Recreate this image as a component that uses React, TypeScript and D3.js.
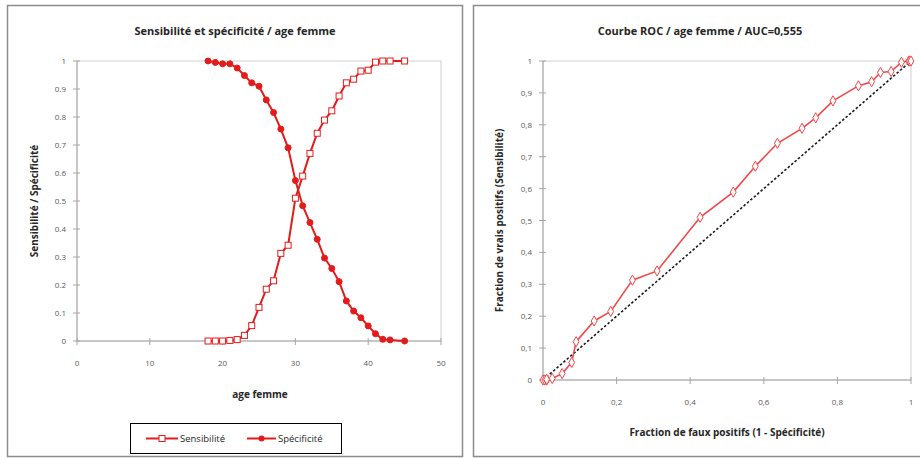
import React from "react";
import * as d3 from "d3";

const ages = [18, 19, 20, 21, 22, 23, 24, 25, 26, 27, 28, 29, 30, 31, 32, 33, 34, 35, 36, 37, 38, 39, 40, 41, 42, 43, 45];
const sensibilite = [0, 0, 0, 0.002, 0.005, 0.02, 0.055, 0.12, 0.185, 0.215, 0.313, 0.342, 0.51, 0.589, 0.67, 0.742, 0.789, 0.822, 0.875, 0.922, 0.935, 0.964, 0.967, 0.996, 1, 1, 1];
const specificite = [1, 0.995, 0.99, 0.99, 0.975, 0.948, 0.922, 0.91, 0.861, 0.816, 0.757, 0.69, 0.573, 0.483, 0.423, 0.363, 0.296, 0.259, 0.212, 0.143, 0.107, 0.083, 0.054, 0.026, 0.006, 0.004, 0];

const leftXTicks = [0, 10, 20, 30, 40, 50];
const leftYTicks = [0, 0.1, 0.2, 0.3, 0.4, 0.5, 0.6, 0.7, 0.8, 0.9, 1];
const rocXTicks = [0, 0.2, 0.4, 0.6, 0.8, 1];
const rocYTicks = [0, 0.1, 0.2, 0.3, 0.4, 0.5, 0.6, 0.7, 0.8, 0.9, 1];
const diagonal = [0, 1];

const RED = "#e41b1b";
const FONT = "'Open Sans', 'Noto Sans', sans-serif";
const AXIS = "#a6a6a6";
const TICKTXT = "#595959";

const fmtDot = (v: number) => (v === 0 || v === 1 ? String(v) : String(+v.toFixed(1)));
const fmtComma = (v: number) => fmtDot(v).replace(".", ",");

export default function App() {
  // left chart scales
  const lx = d3.scaleLinear().domain([0, 50]).range([77, 441]);
  const ly = d3.scaleLinear().domain([0, 1]).range([341, 61]);
  // ROC scales
  const rx = d3.scaleLinear().domain([0, 1]).range([543, 911]);
  const ry = d3.scaleLinear().domain([0, 1]).range([380, 61]);

  const sensPts = ages.map((a, i) => [a, sensibilite[i]] as [number, number]);
  const specPts = ages.map((a, i) => [a, specificite[i]] as [number, number]);
  const rocPts = ages
    .map((a, i) => [1 - specificite[i], sensibilite[i]] as [number, number])
    .sort((p, q) => p[0] - q[0] || p[1] - q[1]);

  const lline = d3.line<[number, number]>().x((d) => lx(d[0])).y((d) => ly(d[1]));
  const rline = d3.line<[number, number]>().x((d) => rx(d[0])).y((d) => ry(d[1]));
  const diag = d3.line<number>().x((d) => rx(d)).y((d) => ry(d));

  const diamond = d3.symbol().type(d3.symbolDiamond).size(30)() as string;

  return (
    <svg width={920} height={459} style={{ position: "absolute", left: 0, top: 0, background: "#fff" }} fontFamily={FONT}>
      {/* panel frames */}
      <rect x={7.5} y={5.5} width={455} height={451} fill="#fff" stroke="#8c8c8c" strokeWidth={1.5} />
      <rect x={473.5} y={5.5} width={460} height={451} fill="#fff" stroke="#8c8c8c" strokeWidth={1.5} />

      {/* ============ LEFT CHART ============ */}
      <text x={235} y={35} textAnchor="middle" fontSize={11} fontWeight="bold" fill="#262626">
        Sensibilité et spécificité / age femme
      </text>
      {/* plot area border */}
      <rect x={lx(0)} y={ly(1)} width={lx(50) - lx(0)} height={ly(0) - ly(1)} fill="none" stroke="#d0d0d0" strokeWidth={1} />
      <line x1={lx(0)} x2={lx(0)} y1={ly(0)} y2={ly(1)} stroke={AXIS} />
      <line x1={lx(0)} x2={lx(50)} y1={ly(0)} y2={ly(0)} stroke={AXIS} />
      {leftYTicks.map((t) => (
        <g key={"ly" + t}>
          <line x1={lx(0) - 4} x2={lx(0) + 3} y1={ly(t)} y2={ly(t)} stroke={AXIS} />
          <text x={lx(0) - 11} y={ly(t) + 3} textAnchor="end" fontSize={8} fill={TICKTXT}>
            {fmtDot(t)}
          </text>
        </g>
      ))}
      {leftXTicks.map((t) => (
        <g key={"lx" + t}>
          <line x1={lx(t)} x2={lx(t)} y1={ly(0) - 3} y2={ly(0) + 4} stroke={AXIS} />
          <text x={lx(t)} y={ly(0) + 25} textAnchor="middle" fontSize={8} fill={TICKTXT}>
            {t}
          </text>
        </g>
      ))}
      <text x={260} y={398} textAnchor="middle" fontSize={10} fontWeight="bold" fill="#262626">
        age femme
      </text>
      <text
        transform={`translate(38, ${(ly(0) + ly(1)) / 2}) rotate(-90)`}
        textAnchor="middle"
        fontSize={10}
        fontWeight="bold"
        fill="#262626"
      >
        Sensibilité / Spécificité
      </text>

      <path d={lline(specPts) as string} fill="none" stroke={RED} strokeWidth={2} />
      <path d={lline(sensPts) as string} fill="none" stroke={RED} strokeWidth={2} />
      {specPts.map((p, i) => (
        <circle key={"sp" + i} cx={lx(p[0])} cy={ly(p[1])} r={3} fill={RED} stroke={RED} strokeWidth={1} />
      ))}
      {sensPts.map((p, i) => (
        <rect key={"se" + i} x={lx(p[0]) - 3} y={ly(p[1]) - 3} width={6} height={6} fill="#fff" stroke={RED} strokeWidth={1} />
      ))}

      {/* legend */}
      <rect x={130.5} y={423.5} width={211} height={30} fill="#fff" stroke="#000" strokeWidth={1} />
      <line x1={146} x2={178} y1={438.5} y2={438.5} stroke={RED} strokeWidth={2} />
      <rect x={159} y={435.5} width={6} height={6} fill="#fff" stroke={RED} />
      <text x={180} y={442} fontSize={9.5} fill="#262626">Sensibilité</text>
      <line x1={247} x2={276} y1={438.5} y2={438.5} stroke={RED} strokeWidth={2} />
      <circle cx={261.5} cy={438.5} r={3} fill={RED} />
      <text x={278} y={442} fontSize={9.5} fill="#262626">Spécificité</text>

      {/* ============ ROC CHART ============ */}
      <text x={700} y={35} textAnchor="middle" fontSize={11} fontWeight="bold" fill="#262626">
        Courbe ROC / age femme / AUC=0,555
      </text>
      <rect x={rx(0)} y={ry(1)} width={rx(1) - rx(0)} height={ry(0) - ry(1)} fill="none" stroke="#d0d0d0" strokeWidth={1} />
      <line x1={rx(0)} x2={rx(0)} y1={ry(0)} y2={ry(1)} stroke={AXIS} />
      <line x1={rx(0)} x2={rx(1)} y1={ry(0)} y2={ry(0)} stroke={AXIS} />
      {rocYTicks.map((t) => (
        <g key={"ry" + t}>
          <line x1={rx(0) - 4} x2={rx(0) + 3} y1={ry(t)} y2={ry(t)} stroke={AXIS} />
          <text x={rx(0) - 11} y={ry(t) + 3} textAnchor="end" fontSize={8} fill={TICKTXT}>
            {fmtComma(t)}
          </text>
        </g>
      ))}
      {rocXTicks.map((t) => (
        <g key={"rx" + t}>
          <line x1={rx(t)} x2={rx(t)} y1={ry(0) - 3} y2={ry(0) + 4} stroke={AXIS} />
          <text x={rx(t)} y={ry(0) + 25} textAnchor="middle" fontSize={8} fill={TICKTXT}>
            {fmtComma(t)}
          </text>
        </g>
      ))}
      <text x={727} y={436} textAnchor="middle" fontSize={10} fontWeight="bold" fill="#262626">
        Fraction de faux positifs (1 - Spécificité)
      </text>
      <text
        transform={`translate(503, ${(ry(0) + ry(1)) / 2}) rotate(-90)`}
        textAnchor="middle"
        fontSize={10}
        fontWeight="bold"
        fill="#262626"
      >
        Fraction de vrais positifs (Sensibilité)
      </text>

      <path d={diag(diagonal) as string} fill="none" stroke="#1a1a1a" strokeWidth={1.6} strokeDasharray="2.5,2" />
      <path d={rline(rocPts) as string} fill="none" stroke="#f0484a" strokeWidth={1.6} />
      {rocPts.map((p, i) => (
        <path key={"roc" + i} d={diamond} transform={`translate(${rx(p[0])},${ry(p[1])})`} fill="#fff" stroke="#f0484a" strokeWidth={1} />
      ))}
    </svg>
  );
}
